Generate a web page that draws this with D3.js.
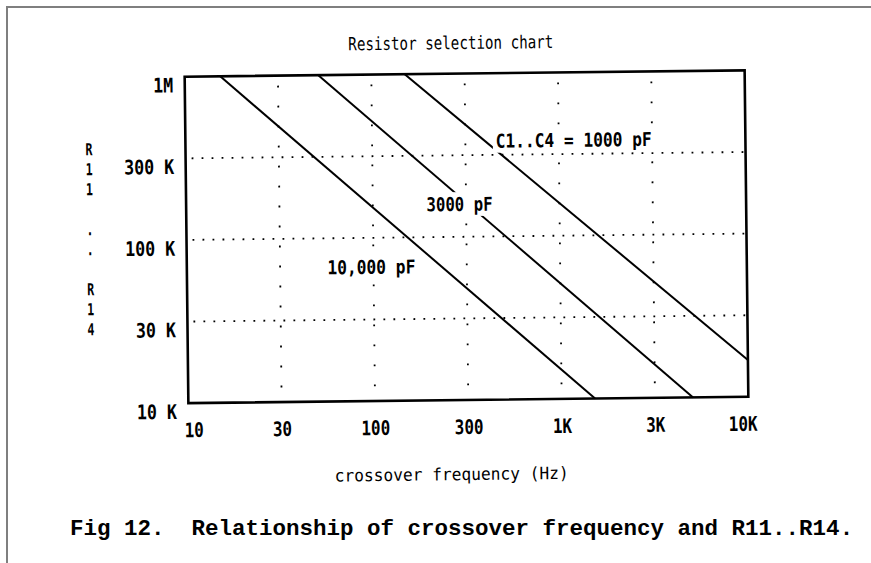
<!DOCTYPE html>
<html>
<head>
<meta charset="utf-8">
<script src="https://cdn.jsdelivr.net/npm/d3@7"></script>
<style>
  body { margin: 0; background: #fff; }
  svg { display: block; }
</style>
</head>
<body>
<div id="viz"></div>
<script>

var freqTicks = [10, 31.6, 100, 316, 1000, 3160, 10000];
var freqLabels = ["10", "30", "100", "300", "1K", "3K", "10K"];
var resTicks = [1000000, 316000, 100000, 31600, 10000];
var resLabels = ["1M", "300 K", "100 K", "30 K", "10 K"];
var yTitle = ["R", "1", "1", " ", ".", ".", " ", "R", "1", "4"];

// [frequency Hz, resistance ohm], each line end to end
var line1000 = [[151, 1000000], [10000, 16800]];
var line3000 = [[52, 1000000], [5060, 10000]];
var line10000 = [[15.5, 1000000], [1510, 10000]];
var curveNames = ["C1..C4 = 1000 pF", "3000 pF", "10,000 pF"];

var W = 871, H = 563;
var mono = "'DejaVu Sans Mono', monospace";

var svg = d3.select("#viz").append("svg")
  .attr("width", W)
  .attr("height", H);

svg.append("rect").attr("width", W).attr("height", H).attr("fill", "#fff");

// page edge of the scan
svg.append("path")
  .attr("d", "M7," + H + "V7H" + W)
  .attr("fill", "none")
  .attr("stroke", "#7f7f7f")
  .attr("stroke-width", 2);

// the scanned plot is a little tilted
var plot = svg.append("g")
  .attr("transform", "rotate(-0.65, 466, 237)");

var x = d3.scaleLog()
  .domain([10, 10000])
  .range([186.5, 746.5]);

var y = d3.scaleLog()
  .domain([1000000, 10000])
  .range([73.5, 400]);

// dotted grid
plot.selectAll(".hgrid")
  .data(resTicks.slice(1, -1))
  .enter()
.append("line")
  .attr("x1", x.range()[0] + 6)
  .attr("x2", x.range()[1])
  .attr("y1", function(d){return y(d)})
  .attr("y2", function(d){return y(d)})
  .attr("stroke", "#000")
  .attr("stroke-width", 1.8)
  .attr("stroke-dasharray", "1.8,8.2");

plot.selectAll(".vgrid")
  .data(freqTicks.slice(1, -1))
  .enter()
.append("line")
  .attr("x1", function(d){return x(d)})
  .attr("x2", function(d){return x(d)})
  .attr("y1", y.range()[0] + 10)
  .attr("y2", y.range()[1])
  .attr("stroke", "#000")
  .attr("stroke-width", 1.8)
  .attr("stroke-dasharray", "1.8,18.2");

// the three capacitor lines
var line = d3.line()
  .x(function(d){return x(d[0])})
  .y(function(d){return y(d[1])});

plot.selectAll(".curve")
  .data([line1000, line3000, line10000])
  .enter()
.append("path")
  .attr("d", line)
  .attr("fill", "none")
  .attr("stroke", "#000")
  .attr("stroke-width", 2);

// curve labels, placed in data space
var labelSpots = [[460, 385000], [194, 158700], [56.6, 66300]];
var labelWidths = [156, 66, 88];

curveNames.forEach(function(name, i){
  var lx = x(labelSpots[i][0]), ly = y(labelSpots[i][1]);
  if (i < 2) {
    plot.append("rect")
      .attr("x", lx - 3)
      .attr("y", ly - 12)
      .attr("width", labelWidths[i] + 6)
      .attr("height", 24)
      .attr("fill", "#fff");
  }
  plot.append("text")
    .attr("x", lx)
    .attr("y", ly)
    .attr("dy", "0.36em")
    .attr("font-family", mono)
    .attr("font-weight", "bold")
    .attr("font-size", 19)
    .attr("textLength", labelWidths[i])
    .attr("lengthAdjust", "spacingAndGlyphs")
    .text(name);
});

// frame
plot.append("rect")
  .attr("x", x.range()[0])
  .attr("y", y.range()[0])
  .attr("width", x.range()[1] - x.range()[0])
  .attr("height", y.range()[1] - y.range()[0])
  .attr("fill", "none")
  .attr("stroke", "#000")
  .attr("stroke-width", 2.6);

// axes
var xAxis = d3.axisBottom(x)
  .tickValues(freqTicks)
  .tickSize(0)
  .tickPadding(0)
  .tickFormat(function(d, i){return freqLabels[i]});

var gx = plot.append("g")
  .attr("transform", "translate(0," + y.range()[1] + ")")
  .call(xAxis);

gx.select(".domain").remove();
gx.selectAll("text")
  .attr("y", 34)
  .attr("dy", 0)
  .attr("dx", function(d, i){return i == 0 ? 5 : (i == freqTicks.length - 1 ? -6 : 0)})
  .attr("font-family", mono)
  .attr("font-weight", "bold")
  .attr("font-size", 20)
  .attr("fill", "#000")
  .attr("textLength", function(d, i){return freqLabels[i].length * 9.6})
  .attr("lengthAdjust", "spacingAndGlyphs");

var yAxis = d3.axisLeft(y)
  .tickValues(resTicks)
  .tickSize(0)
  .tickPadding(0)
  .tickFormat(function(d, i){return resLabels[i]});

var gy = plot.append("g")
  .attr("transform", "translate(175,0)")
  .call(yAxis);

gy.select(".domain").remove();
gy.selectAll("text")
  .attr("x", 0)
  .attr("dy", 0)
  .attr("y", 15)
  .attr("font-family", mono)
  .attr("font-weight", "bold")
  .attr("font-size", 20)
  .attr("fill", "#000")
  .attr("textLength", function(d, i){return resLabels[i].length * 10})
  .attr("lengthAdjust", "spacingAndGlyphs");

// stacked y title
plot.selectAll(".ytitle")
  .data(yTitle)
  .enter()
.append("text")
  .attr("x", 90)
  .attr("y", function(d, i){return 151 + i * 20})
  .attr("text-anchor", "middle")
  .attr("font-family", mono)
  .attr("font-weight", "bold")
  .attr("font-size", 16.5)
  .attr("textLength", 7)
  .attr("lengthAdjust", "spacingAndGlyphs")
  .text(function(d){return d});

plot.append("text")
  .attr("x", 453)
  .attr("y", 49)
  .attr("text-anchor", "middle")
  .attr("font-family", mono)
  .attr("font-size", 18)
  .attr("textLength", 205)
  .attr("lengthAdjust", "spacingAndGlyphs")
  .text("Resistor selection chart");

plot.append("text")
  .attr("x", 449)
  .attr("y", 480)
  .attr("text-anchor", "middle")
  .attr("font-family", mono)
  .attr("font-size", 17)
  .attr("textLength", 234)
  .attr("lengthAdjust", "spacingAndGlyphs")
  .text("crossover frequency (Hz)");

svg.append("text")
  .attr("x", 70)
  .attr("y", 535)
  .attr("font-family", "'Liberation Mono', 'Courier New', monospace")
  .attr("font-weight", "bold")
  .attr("font-size", 22.5)
  .attr("xml:space", "preserve")
  .style("white-space", "pre")
  .text("Fig 12.  Relationship of crossover frequency and R11..R14.");

</script>
</body>
</html>
